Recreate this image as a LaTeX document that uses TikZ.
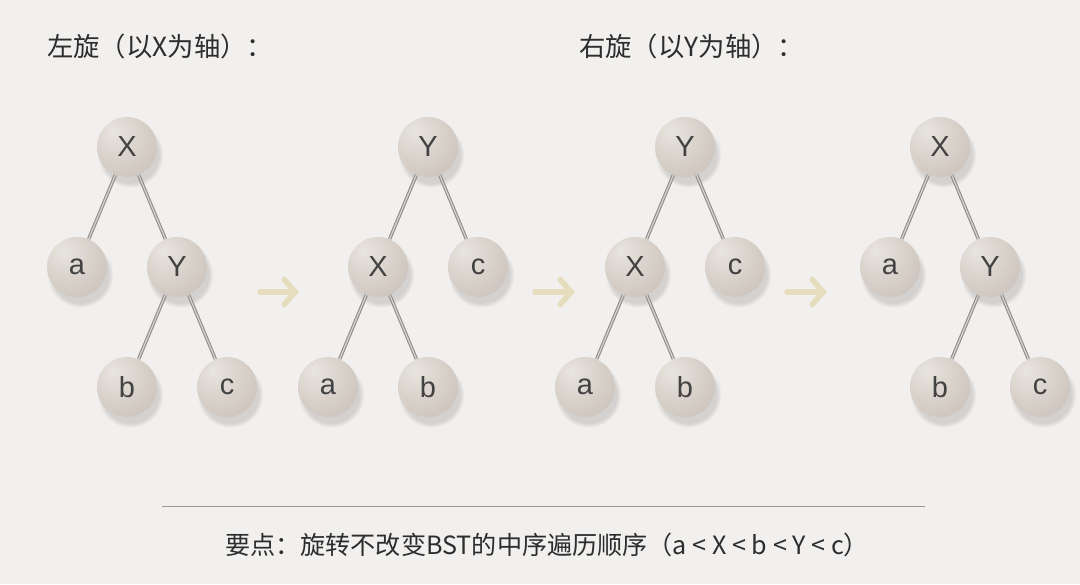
\documentclass[tikz,border=0pt]{standalone}
\usepackage{fontspec}
\setmainfont{Liberation Sans}
\newfontfamily\cjk{Noto Sans CJK SC}
\usepackage{tikz}
\usetikzlibrary{positioning}
\usetikzlibrary{shadows}
\usetikzlibrary{arrows.meta}
\definecolor{bgcol}{RGB}{241,240,238}
\definecolor{ballhi}{RGB}{232,228,223}
\definecolor{ballmid}{RGB}{216,209,202}
\definecolor{ballrim}{RGB}{184,174,165}
\definecolor{edgecol}{RGB}{140,134,128}
\definecolor{arrcol}{RGB}{230,221,190}
\definecolor{txtcol}{RGB}{45,45,45}
\pgfdeclareradialshading{sphere}{\pgfpoint{-12bp}{14bp}}{color(0bp)=(ballhi); color(22bp)=(ballmid); color(62bp)=(ballrim); color(80bp)=(ballrim)}
\tikzstyle{ball}  = [circle, minimum size=1.2cm, inner sep=0pt, shading=sphere, text=txtcol!90, font=\fontsize{16.5}{16.5}\selectfont, circular drop shadow={shadow xshift=0.6mm, shadow yshift=-1.4mm, opacity=0.12, fill=black}]
\tikzstyle{link}  = [draw=edgecol, line width=0.55pt, double=edgecol!40, double distance=0.8pt]
\tikzstyle{turn}  = [draw=arrcol, line width=3.2pt, line cap=round, -{Straight Barb[length=2.2mm, width=5mm, line cap=round]}]
\tikzstyle{title} = [anchor=west, text=txtcol, font=\cjk\fontsize{15}{15}\selectfont]

\begin{document}
\begin{tikzpicture}[node distance=2.4cm and 1cm, on grid]
	\useasboundingbox[fill=bgcol] (0,0) rectangle (21.6,-11.68);
	\node [title] (t1) at (0.82,-0.92) {左旋（以X为轴）：};
	\node [title] (t2) at (11.46,-0.92) {右旋（以Y为轴）：};
	% left rotation, before
	\node [ball] (X1) at (2.54,-2.94) {X};
	\node [ball, below left=of X1] (a1) {a};
	\node [ball, below right=of X1] (Y1) {Y};
	\node [ball, below left=of Y1] (b1) {b};
	\node [ball, below right=of Y1] (c1) {c};
	\path [link] (X1) -- (a1);
	\path [link] (X1) -- (Y1);
	\path [link] (Y1) -- (b1);
	\path [link] (Y1) -- (c1);
	% left rotation, after
	\node [ball] (Y2) at (8.56,-2.94) {Y};
	\node [ball, below left=of Y2] (X2) {X};
	\node [ball, below right=of Y2] (c2) {c};
	\node [ball, below left=of X2] (a2) {a};
	\node [ball, below right=of X2] (b2) {b};
	\path [link] (Y2) -- (X2);
	\path [link] (Y2) -- (c2);
	\path [link] (X2) -- (a2);
	\path [link] (X2) -- (b2);
	% right rotation, before
	\node [ball] (Y3) at (13.7,-2.94) {Y};
	\node [ball, below left=of Y3] (X3) {X};
	\node [ball, below right=of Y3] (c3) {c};
	\node [ball, below left=of X3] (a3) {a};
	\node [ball, below right=of X3] (b3) {b};
	\path [link] (Y3) -- (X3);
	\path [link] (Y3) -- (c3);
	\path [link] (X3) -- (a3);
	\path [link] (X3) -- (b3);
	% right rotation, after
	\node [ball] (X4) at (18.8,-2.94) {X};
	\node [ball, below left=of X4] (a4) {a};
	\node [ball, below right=of X4] (Y4) {Y};
	\node [ball, below left=of Y4] (b4) {b};
	\node [ball, below right=of Y4] (c4) {c};
	\path [link] (X4) -- (a4);
	\path [link] (X4) -- (Y4);
	\path [link] (Y4) -- (b4);
	\path [link] (Y4) -- (c4);
	% arrows between trees
	\coordinate (s1) at (5.2,-5.84);
	\coordinate (e1) at (5.98,-5.84);
	\coordinate (s2) at (10.7,-5.84);
	\coordinate (e2) at (11.5,-5.84);
	\coordinate (s3) at (15.74,-5.84);
	\coordinate (e3) at (16.54,-5.84);
	\path [turn] (s1) -- (e1);
	\path [turn] (s2) -- (e2);
	\path [turn] (s3) -- (e3);
	% bottom note
	\coordinate (l1) at (3.24,-10.12);
	\coordinate (l2) at (18.5,-10.12);
	\draw [gray!80, line width=0.5pt] (l1) -- (l2);
	\node [title, font=\cjk\fontsize{14.3}{14.3}\selectfont] (note) at (4.38,-10.9) {要点：旋转不改变BST的中序遍历顺序（a < X < b < Y < c）};
\end{tikzpicture}
\end{document}
